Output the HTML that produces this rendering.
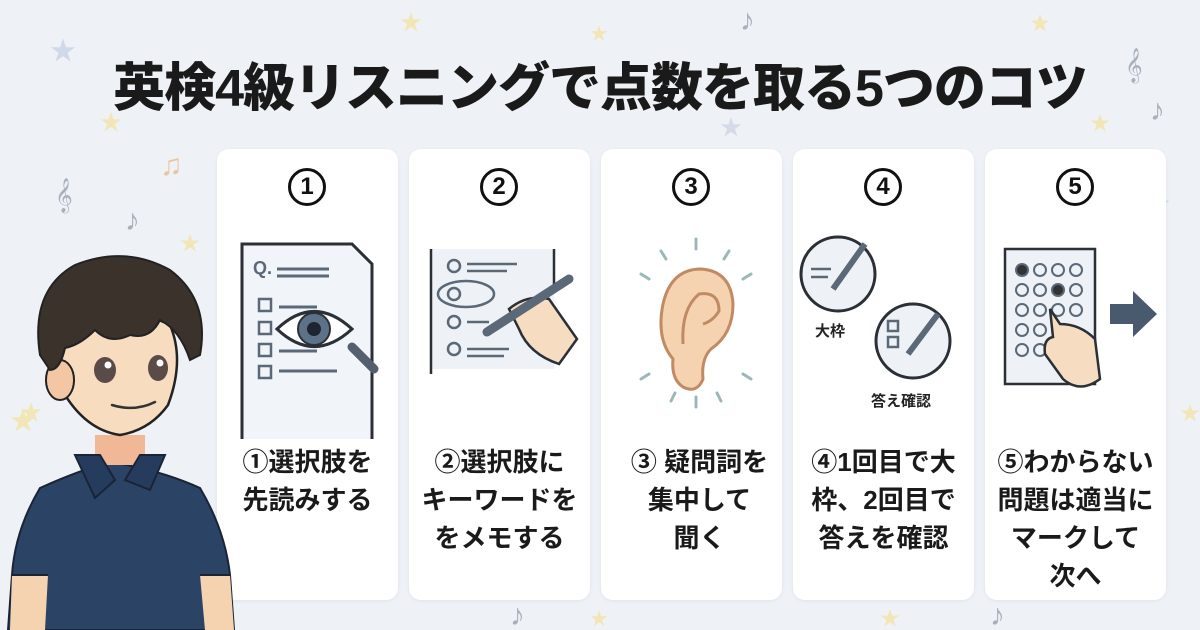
<!DOCTYPE html>
<html><head><meta charset="utf-8">
<style>
*{margin:0;padding:0;box-sizing:border-box}
body{width:1200px;height:630px;overflow:hidden;background:#eef2f6;font-family:"Liberation Sans","Noto Sans CJK JP",sans-serif;position:relative}
.title{position:absolute;left:0;width:1200px;top:46px;text-align:center;font-size:52px;font-weight:900;color:#1a1a1a;letter-spacing:-1px;white-space:nowrap}
.card{position:absolute;top:149px;width:181px;height:451px;background:#fff;border-radius:12px;box-shadow:0 1px 4px rgba(0,0,0,.06)}
.num{position:absolute;left:71px;top:19px;width:38px;height:38px;border:3px solid #111;border-radius:50%;text-align:center;font-size:24px;line-height:32px;font-weight:700;color:#111}
.txt{position:absolute;left:0;width:181px;top:294px;font-size:26px;font-weight:700;color:#1a1a1a;line-height:38px;text-align:center;white-space:nowrap}
.ill{position:absolute;left:0;top:80px}
</style></head><body>
<svg width="1200" height="630" style="position:absolute;left:0;top:0">
<g fill="#f3e3a8" opacity=".8">
<text x="400" y="30" font-size="22">★</text><text x="590" y="40" font-size="18">★</text><text x="1030" y="30" font-size="20">★</text>
<text x="100" y="130" font-size="22">★</text><text x="720" y="135" font-size="22" fill="#cfd5e6">★</text><text x="1090" y="130" font-size="20">★</text>
<text x="20" y="420" font-size="22">★</text><text x="1180" y="420" font-size="20">★</text><text x="880" y="625" font-size="20">★</text><text x="590" y="625" font-size="18">★</text>
<text x="50" y="60" font-size="26" fill="#c9d3ea">★</text><text x="1150" y="210" font-size="20" fill="#c9d3ea">★</text>
<text x="180" y="250" font-size="20">★</text><text x="10" y="430" font-size="26">★</text>
</g>
<g fill="#8d95a5" font-size="30" opacity=".7"><text x="55" y="205">𝄞</text><text x="1125" y="75">𝄞</text><text x="160" y="175" fill="#e8b37a">♫</text><text x="740" y="30">♪</text><text x="1150" y="120">♪</text><text x="125" y="230">♪</text><text x="510" y="625">♪</text><text x="990" y="625">♪</text></g>
</svg>
<div class="title">英検4級リスニングで点数を取る5つのコツ</div>

<div class="card" style="left:217px"><div class="num">1</div>
<svg class="ill" width="181" height="210"><g stroke="#2b2f36" stroke-width="3" fill="#f1f4f8"><path d="M25 25 H135 L155 45 V230 H25Z" transform="translate(0,-10)"/></g>
<text x="36" y="45" font-size="18" font-weight="700" fill="#5a6878">Q.</text>
<g stroke="#5a6878" stroke-width="3"><line x1="60" y1="40" x2="112" y2="40"/><line x1="60" y1="47" x2="112" y2="47"/><line x1="62" y1="78" x2="100" y2="78"/><line x1="62" y1="122" x2="100" y2="122"/><line x1="62" y1="142" x2="120" y2="142"/></g>
<g stroke="#5a6878" stroke-width="2.5" fill="none"><rect x="42" y="70" width="12" height="12"/><rect x="42" y="93" width="12" height="12"/><rect x="42" y="115" width="12" height="12"/><rect x="42" y="137" width="12" height="12"/></g>
<path d="M60 100 Q97 65 135 100 Q97 135 60 100Z" fill="#fff" stroke="#2b2f36" stroke-width="3"/><circle cx="97" cy="100" r="16" fill="#5d7288" stroke="#2b2f36" stroke-width="2"/><circle cx="97" cy="100" r="7" fill="#1e2530"/>
<line x1="135" y1="118" x2="157" y2="140" stroke="#55606e" stroke-width="9" stroke-linecap="round"/></svg>
<div class="txt">①選択肢を<br>先読みする</div></div>

<div class="card" style="left:409px"><div class="num">2</div>
<svg class="ill" width="181" height="210"><rect x="22" y="20" width="123" height="120" fill="#eef2f6"/><g stroke="#2b2f36" stroke-width="2.5"><line x1="22" y1="20" x2="22" y2="145"/><line x1="145" y1="20" x2="145" y2="60"/></g>
<g stroke="#5a6878" stroke-width="2.5" fill="none"><circle cx="45" cy="37" r="6"/><circle cx="45" cy="65" r="6"/><circle cx="45" cy="93" r="6"/><circle cx="45" cy="120" r="6"/><ellipse cx="57" cy="65" rx="28" ry="13"/>
<line x1="58" y1="35" x2="108" y2="35"/><line x1="58" y1="42" x2="98" y2="42"/><line x1="58" y1="120" x2="100" y2="120"/><line x1="58" y1="127" x2="95" y2="127"/><line x1="58" y1="93" x2="80" y2="93"/></g>
<path d="M100 80 Q118 65 140 70 L168 110 L150 135 Q120 125 110 100Z" fill="#f6dcc0" stroke="#2b2f36" stroke-width="2.5"/>
<line x1="78" y1="103" x2="160" y2="50" stroke="#5a6878" stroke-width="9" stroke-linecap="round"/></svg>
<div class="txt">②選択肢に<br>キーワードを<br>をメモする</div></div>

<div class="card" style="left:601px"><div class="num">3</div>
<svg class="ill" width="181" height="210"><path d="M72 130 Q55 110 62 75 Q70 40 100 40 Q130 42 132 75 Q132 105 110 120 Q100 130 102 150 Q96 165 82 158 Q70 150 72 130Z" fill="#f6d3b0" stroke="#c08a64" stroke-width="3"/>
<path d="M82 115 Q80 80 98 65 Q118 62 118 82 Q112 92 102 95" fill="none" stroke="#c08a64" stroke-width="3"/>
<g stroke="#9bb8b8" stroke-width="3" stroke-linecap="round"><line x1="60" y1="22" x2="65" y2="30"/><line x1="95" y1="10" x2="95" y2="20"/><line x1="128" y1="22" x2="123" y2="30"/><line x1="40" y1="45" x2="48" y2="50"/><line x1="150" y1="45" x2="142" y2="50"/><line x1="40" y1="150" x2="48" y2="145"/><line x1="150" y1="150" x2="142" y2="145"/><line x1="70" y1="172" x2="74" y2="164"/><line x1="95" y1="178" x2="95" y2="168"/><line x1="120" y1="172" x2="116" y2="164"/></g></svg>
<div class="txt" style="left:8px">③ 疑問詞を<br>集中して<br>聞く</div></div>

<div class="card" style="left:793px"><div class="num">4</div>
<svg class="ill" width="181" height="210"><circle cx="45" cy="45" r="37" fill="#eef2f6" stroke="#2b2f36" stroke-width="3"/><circle cx="120" cy="112" r="37" fill="#eef2f6" stroke="#2b2f36" stroke-width="3"/>
<line x1="40" y1="60" x2="72" y2="15" stroke="#5a6878" stroke-width="6"/><line x1="115" y1="125" x2="145" y2="85" stroke="#5a6878" stroke-width="6"/>
<g stroke="#5a6878" stroke-width="2.5"><line x1="18" y1="40" x2="38" y2="40"/><line x1="18" y1="48" x2="35" y2="48"/><rect x="95" y="92" width="10" height="10" fill="none"/><rect x="95" y="108" width="10" height="10" fill="none"/></g>
<text x="22" y="107" font-size="15" font-weight="700" fill="#222">大枠</text><text x="78" y="177" font-size="15" font-weight="700" fill="#222">答え確認</text></svg>
<div class="txt">④1回目で大<br>枠、2回目で<br>答えを確認</div></div>

<div class="card" style="left:985px"><div class="num">5</div>
<svg class="ill" width="181" height="210"><rect x="20" y="20" width="90" height="135" fill="#eef2f6" stroke="#2b2f36" stroke-width="2.5"/>
<g fill="none" stroke="#5a6878" stroke-width="2"><circle cx="37" cy="41" r="6" fill="#333"/><circle cx="55" cy="41" r="6"/><circle cx="73" cy="41" r="6"/><circle cx="91" cy="41" r="6"/><circle cx="37" cy="61" r="6"/><circle cx="55" cy="61" r="6"/><circle cx="73" cy="61" r="6" fill="#333"/><circle cx="91" cy="61" r="6"/><circle cx="37" cy="81" r="6"/><circle cx="55" cy="81" r="6"/><circle cx="73" cy="81" r="6"/><circle cx="91" cy="81" r="6"/><circle cx="37" cy="101" r="6"/><circle cx="55" cy="101" r="6"/><circle cx="73" cy="101" r="6"/><circle cx="37" cy="121" r="6"/><circle cx="55" cy="121" r="6"/></g>
<path d="M65 80 L75 95 Q95 95 110 110 L115 150 Q95 165 78 150 L60 125 Q58 110 68 108Z" fill="#f6dcc0" stroke="#2b2f36" stroke-width="2.5"/>
<path d="M125 75 H148 V62 L172 85 L148 108 V95 H125Z" fill="#4a5a6e"/></svg>
<div class="txt">⑤わからない<br>問題は適当に<br>マークして<br>次へ</div></div>

<svg width="240" height="400" style="position:absolute;left:0;top:230px">
<path d="M8 400 L12 345 Q15 300 40 258 Q80 240 110 232 Q160 240 200 258 Q225 300 230 345 L234 400Z" fill="#2b4466" stroke="#1a2436" stroke-width="2"/>
<path d="M12 345 L10 400 L45 400 L48 345Z M200 345 L205 400 L234 400 L230 345Z" fill="#f6d3b0"/>
<path d="M12 345 L48 345 M230 345 L200 345" stroke="#1a2436" stroke-width="2"/>
<path d="M95 205 L95 235 L145 235 L145 205Z" fill="#f0b896"/>
<path d="M75 225 L100 225 L115 250 L95 268Z M165 225 L140 225 L125 250 L150 260Z" fill="#253c5e" stroke="#1a2436" stroke-width="2"/>
<path d="M62 160 Q50 110 70 90 Q120 70 170 95 Q185 130 168 175 Q150 200 120 205 Q85 200 62 160Z" fill="#f8dcc0" stroke="#222" stroke-width="2.5"/>
<ellipse cx="60" cy="150" rx="14" ry="20" fill="#f3c7a4" stroke="#222" stroke-width="2"/>
<path d="M40 125 Q30 60 75 35 Q125 15 170 40 Q210 70 200 125 L190 130 Q180 100 160 90 Q150 110 130 105 Q110 115 95 100 Q80 115 65 118 Q60 140 50 140Z" fill="#3b322c" stroke="#222" stroke-width="2"/>
<ellipse cx="105" cy="140" rx="11" ry="13" fill="#5a4a48"/><ellipse cx="158" cy="138" rx="10" ry="13" fill="#5a4a48"/>
<circle cx="108" cy="135" r="3.5" fill="#fff"/><circle cx="160" cy="133" r="3.5" fill="#fff"/>
<path d="M112 175 Q135 182 155 172" fill="none" stroke="#333" stroke-width="2.5" stroke-linecap="round"/>
</svg>
</body></html>
